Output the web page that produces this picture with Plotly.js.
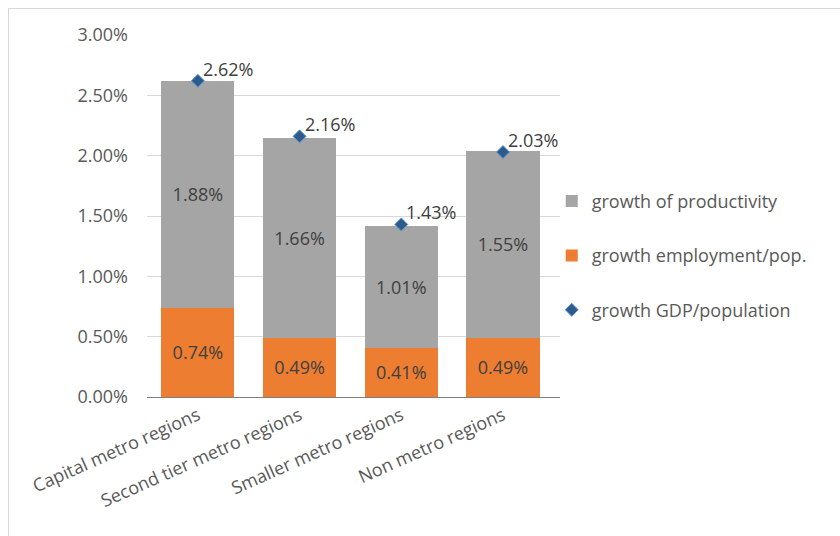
<!DOCTYPE html>
<html>
<head>
<meta charset="utf-8">
<script src="https://cdn.plot.ly/plotly-3.0.1.min.js"></script>
<style>
html,body{margin:0;padding:0;background:#fff;}
#wrap{position:relative;width:840px;height:536px;}
#border{position:absolute;left:8px;top:8px;width:840px;height:540px;border-left:1px solid #d9d9d9;border-top:1px solid #d9d9d9;box-sizing:border-box;pointer-events:none;}
#chart{position:absolute;left:0;top:0;width:840px;height:536px;}
</style>
</head>
<body>
<div id="wrap"><div id="chart"></div><div id="border"></div></div>
<script>
const categories = ["Capital metro regions", "Second tier metro regions", "Smaller metro regions", "Non metro regions"];
const employment = [0.74, 0.49, 0.41, 0.49];
const productivity = [1.88, 1.66, 1.01, 1.55];
const gdpPerPop = [2.62, 2.16, 1.43, 2.03];
const yTickVals = [0, 0.5, 1.0, 1.5, 2.0, 2.5, 3.0];
const yTickText = ["0.00%", "0.50%", "1.00%", "1.50%", "2.00%", "2.50%", "3.00%"];

const FONT = "Open Sans, Noto Sans, sans-serif";
const fmt = v => v.toFixed(2) + "%";

const traces = [
  {
    type: "bar", name: "growth employment/pop.", x: categories, y: employment,
    marker: {color: "#ED7D31", line: {width: 0}},
    text: employment.map(fmt), textposition: "inside", insidetextanchor: "middle",
    textfont: {family: FONT, size: 18, color: "#404040"},
    legendgroup: "b", legendrank: 2, hoverinfo: "skip"
  },
  {
    type: "bar", name: "growth of productivity", x: categories, y: productivity,
    marker: {color: "#A5A5A5", line: {width: 0}},
    text: productivity.map(fmt), textposition: "inside", insidetextanchor: "middle",
    textfont: {family: FONT, size: 18, color: "#404040"},
    legendgroup: "a", legendrank: 1, hoverinfo: "skip"
  },
  {
    type: "scatter", mode: "markers", name: "growth GDP/population", x: categories, y: gdpPerPop,
    marker: {symbol: "diamond", size: 10, color: "#2F5A8C", line: {color: "#5B9BD5", width: 1}},
    legendgroup: "c", legendrank: 3, hoverinfo: "skip", cliponaxis: false
  }
];

const annotations = categories.map((c, i) => ({
  x: c, y: gdpPerPop[i], xref: "x", yref: "y",
  text: fmt(gdpPerPop[i]), showarrow: false,
  xanchor: "left", yanchor: "middle", xshift: 3, yshift: 12,
  font: {family: FONT, size: 18, color: "#404040"}
}));

const layout = {
  width: 840, height: 536,
  margin: {l: 147, r: 280, t: 35, b: 139, autoexpand: false},
  paper_bgcolor: "#fff", plot_bgcolor: "#fff",
  barmode: "stack", bargap: 0.28,
  showlegend: true,
  font: {family: FONT, color: "#595959"},
  annotations: annotations,
  xaxis: {
    type: "category", tickangle: -24, showgrid: false,
    showline: true, linecolor: "#7f7f7f", linewidth: 1.3,
    ticks: "", tickfont: {family: FONT, size: 18, color: "#595959"},
    fixedrange: true
  },
  yaxis: {
    range: [0, 3.0], tickvals: yTickVals, ticktext: yTickText,
    showgrid: true, gridcolor: "#d9d9d9", gridwidth: 1,
    zeroline: false, showline: false, ticks: "",
    ticklabelstandoff: 18,
    tickfont: {family: FONT, size: 18, color: "#595959"},
    automargin: false, fixedrange: true
  },
  legend: {
    x: 0.98, y: 0.39, xanchor: "left", yanchor: "middle",
    traceorder: "grouped", tracegroupgap: 28,
    font: {family: FONT, size: 18, color: "#595959"},
    itemwidth: 30, bgcolor: "rgba(0,0,0,0)"
  }
};

Plotly.newPlot("chart", traces, layout, {displayModeBar: false, staticPlot: true});
</script>
</body>
</html>
